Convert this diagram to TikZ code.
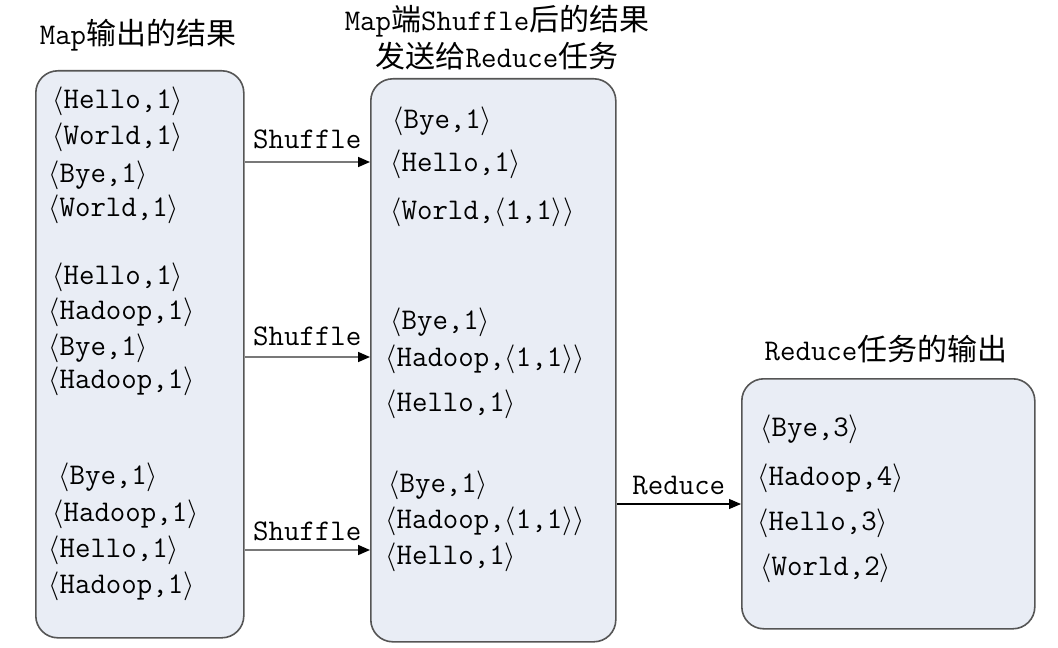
\documentclass[tikz,border=0pt]{standalone}
\usepackage{fontspec}
\newfontfamily\cjk{Noto Sans CJK SC}
\usetikzlibrary{arrows.meta,positioning}
\definecolor{boxfill}{RGB}{233,237,245}
\definecolor{boxline}{RGB}{85,85,85}
\definecolor{flowgray}{RGB}{120,120,120}
\newcommand{\zh}[1]{{\cjk #1}}
\newcommand{\kv}[1]{$\langle$#1$\rangle$}

\begin{document}
\begin{tikzpicture}[x=0.5pt,y=-0.5pt,
  font=\fontsize{15}{18.5}\selectfont\ttfamily,
  box/.style={draw=boxline, fill=boxfill, line width=0.8pt, rounded corners=11pt, anchor=north west, inner sep=0pt},
  kvpair/.style={anchor=west, inner sep=0pt},
  flow/.style={draw=flowgray, line width=0.8pt, -{Triangle[length=6pt,width=5pt,color=black]}},
  reduceflow/.style={draw=black, line width=0.6pt, -{Triangle[length=6pt,width=5pt]}}]
\useasboundingbox (0,0) rectangle (1058,647);

%% the three boxes
\node[box, minimum width=104pt, minimum height=283.5pt] (mapout) at (35,70) {};
\node[box, minimum width=122.5pt, minimum height=281.5pt] (shuffled) at (370,78) {};
\node[box, minimum width=146.5pt, minimum height=125pt] (reduced) at (741,378) {};

%% titles
\node (mapTitle) at (138,35) {Map\zh{输出的结果}};
\node[align=center] (shuffleTitle) at (497,38) {Map\zh{端}Shuffle\zh{后的结果}\\\zh{发送给}Reduce\zh{任务}};
\node (reduceTitle) at (886,349) {Reduce\zh{任务的输出}};

%% map output
\node[kvpair] (m1) at (52,101) {\kv{Hello,1}};
\node[kvpair] (m2) at (52,137) {\kv{World,1}};
\node[kvpair] (m3) at (48,175) {\kv{Bye,1}};
\node[kvpair] (m4) at (48,209) {\kv{World,1}};
\node[kvpair] (m5) at (52,277) {\kv{Hello,1}};
\node[kvpair] (m6) at (48,312) {\kv{Hadoop,1}};
\node[kvpair] (m7) at (48,348) {\kv{Bye,1}};
\node[kvpair] (m8) at (48,381) {\kv{Hadoop,1}};
\node[kvpair] (m9) at (58,477) {\kv{Bye,1}};
\node[kvpair] (m10) at (52,514) {\kv{Hadoop,1}};
\node[kvpair] (m11) at (48,550) {\kv{Hello,1}};
\node[kvpair] (m12) at (48,586) {\kv{Hadoop,1}};

%% after shuffle
\node[kvpair] (s1) at (392,121) {\kv{Bye,1}};
\node[kvpair] (s2) at (390,164) {\kv{Hello,1}};
\node[kvpair] (s3) at (390,212) {\kv{World,\kv{1,1}}};
\node[kvpair] (s4) at (390,322) {\kv{Bye,1}};
\node[kvpair] (s5) at (385,359) {\kv{Hadoop,\kv{1,1}}};
\node[kvpair] (s6) at (385,404) {\kv{Hello,1}};
\node[kvpair] (s7) at (388,485) {\kv{Bye,1}};
\node[kvpair] (s8) at (385,521) {\kv{Hadoop,\kv{1,1}}};
\node[kvpair] (s9) at (385,557) {\kv{Hello,1}};

%% reduce output
\node[kvpair] (r1) at (760,429) {\kv{Bye,3}};
\node[kvpair] (r2) at (757,478) {\kv{Hadoop,4}};
\node[kvpair] (r3) at (757,523) {\kv{Hello,3}};
\node[kvpair] (r4) at (760,568) {\kv{World,2}};

%% arrows
\coordinate (f1) at (0,162);
\coordinate (f2) at (0,357);
\coordinate (f3) at (0,550);
\coordinate (f4) at (0,504);
\draw[flow] (mapout.east |- f1) -- node[above=3pt, black] {Shuffle} (shuffled.west |- f1);
\draw[flow] (mapout.east |- f2) -- node[above=2pt, black] {Shuffle} (shuffled.west |- f2);
\draw[flow] (mapout.east |- f3) -- node[above=1pt, black] {Shuffle} (shuffled.west |- f3);
\draw[reduceflow] (shuffled.east |- f4) -- node[above=1pt] {Reduce} (reduced.west |- f4);
\end{tikzpicture}
\end{document}
